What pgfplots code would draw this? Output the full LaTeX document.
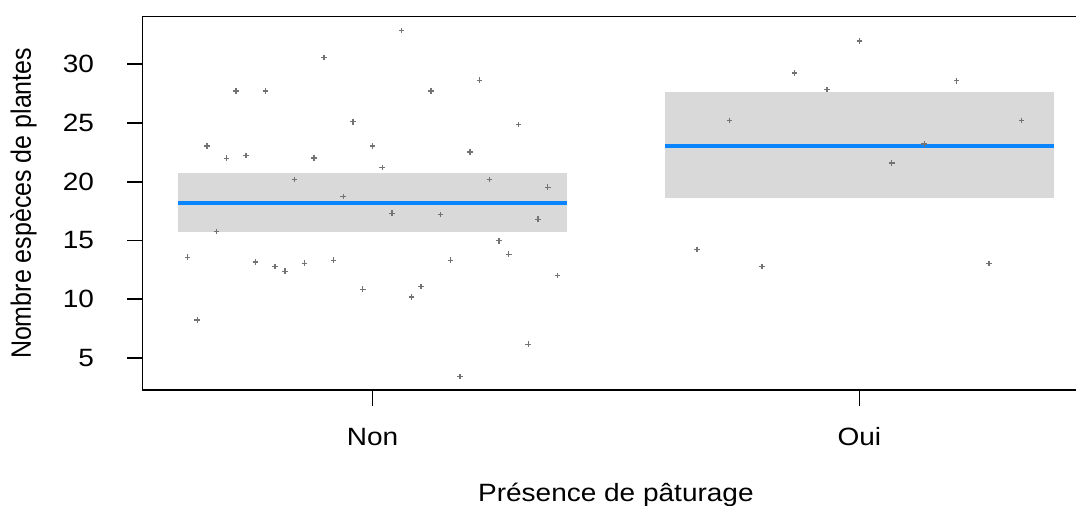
\documentclass[border=0pt]{standalone}
\usepackage{fontspec}
\setmainfont{Liberation Sans}
\usepackage{graphicx}
\usepackage{pgfplots}
\pgfplotsset{compat=1.18}
\definecolor{band}{RGB}{217,217,217}
\definecolor{fitblue}{RGB}{10,132,255}
\definecolor{ptgray}{RGB}{115,115,115}
\begin{document}
\begin{tikzpicture}[font=\fontsize{12.5}{15}\selectfont]
\begin{axis}[
  name=ax,
  scale only axis,
  width=473.2pt, height=186.65pt,
  xmin=0.528, xmax=2.472,
  ymin=2.276, ymax=34.05,
  axis line style={line width=0.8pt},
  tick style={line width=0.8pt, black},
  tick align=outside,
  major tick length=7.8pt,
  xtick={1,2},
  xticklabels={\scalebox{1.12}[1]{Non},\scalebox{1.12}[1]{Oui}},
  xtick pos=bottom, ytick pos=left,
  ytick={5,10,15,20,25,30},
  yticklabel={\scalebox{1.12}[1]{\pgfmathprintnumber[assume math mode=true]{\tick}}},
  xticklabel style={anchor=base, inner sep=0pt, yshift=-20.2pt},
  yticklabel style={anchor=east, inner sep=0pt, xshift=-16.35pt},
  xlabel={\scalebox{1.12}[1]{Présence de pâturage}},
  ylabel={\scalebox{1}[1.12]{Nombre espèces de plantes}},
  xlabel style={at={(axis description cs:0.5,-0.2974)}, anchor=base, inner sep=0pt},
  ylabel style={at={(axis description cs:-0.1181,0.5)}, anchor=base, inner sep=0pt},
  clip=false,
]
% confidence bands
\addplot[fill=band, draw=none] coordinates {(0.6,15.70) (1.4,15.70) (1.4,20.72) (0.6,20.72)} -- cycle;
\addplot[fill=band, draw=none] coordinates {(1.6,18.59) (2.4,18.59) (2.4,27.64) (1.6,27.64)} -- cycle;
% observations
\addplot[only marks, mark=+, mark size=1.4pt, ptgray, mark options={line width=0.7pt}] coordinates {
(0.62,13.57) (0.64,8.23) (0.66,23.05) (0.68,15.75) (0.70,22.00) (0.72,27.73)
(0.74,22.25) (0.76,13.17) (0.78,27.73) (0.80,12.77) (0.82,12.38) (0.84,20.18)
(0.86,13.06) (0.88,22.02) (0.90,30.56) (0.92,13.32) (0.94,18.76) (0.96,25.11)
(0.98,10.85) (1.00,23.05) (1.02,21.23) (1.04,17.32) (1.06,32.89) (1.08,10.19)
(1.10,11.10) (1.12,27.73) (1.14,17.20) (1.16,13.32) (1.18,3.44) (1.20,22.53)
(1.22,28.64) (1.24,20.18) (1.26,14.98) (1.28,13.83) (1.30,24.86) (1.32,6.17)
(1.34,16.81) (1.36,19.53) (1.38,12.01)
(1.6667,14.22) (1.7333,25.23) (1.8,12.77) (1.8667,29.26) (1.9333,27.84)
(2.0,31.98) (2.0667,21.60) (2.1333,23.22) (2.2,28.60) (2.2667,13.03) (2.3333,25.23)
};
% fitted means
\addplot[fitblue, line width=2pt] coordinates {(0.6,18.22) (1.4,18.22)};
\addplot[fitblue, line width=2pt] coordinates {(1.6,23.05) (2.4,23.05)};
\end{axis}
\pgfresetboundingbox
\path[use as bounding box] (ax.south west) ++(-71.35pt,-58pt) rectangle ++(538pt,253pt);
\end{tikzpicture}
\end{document}
